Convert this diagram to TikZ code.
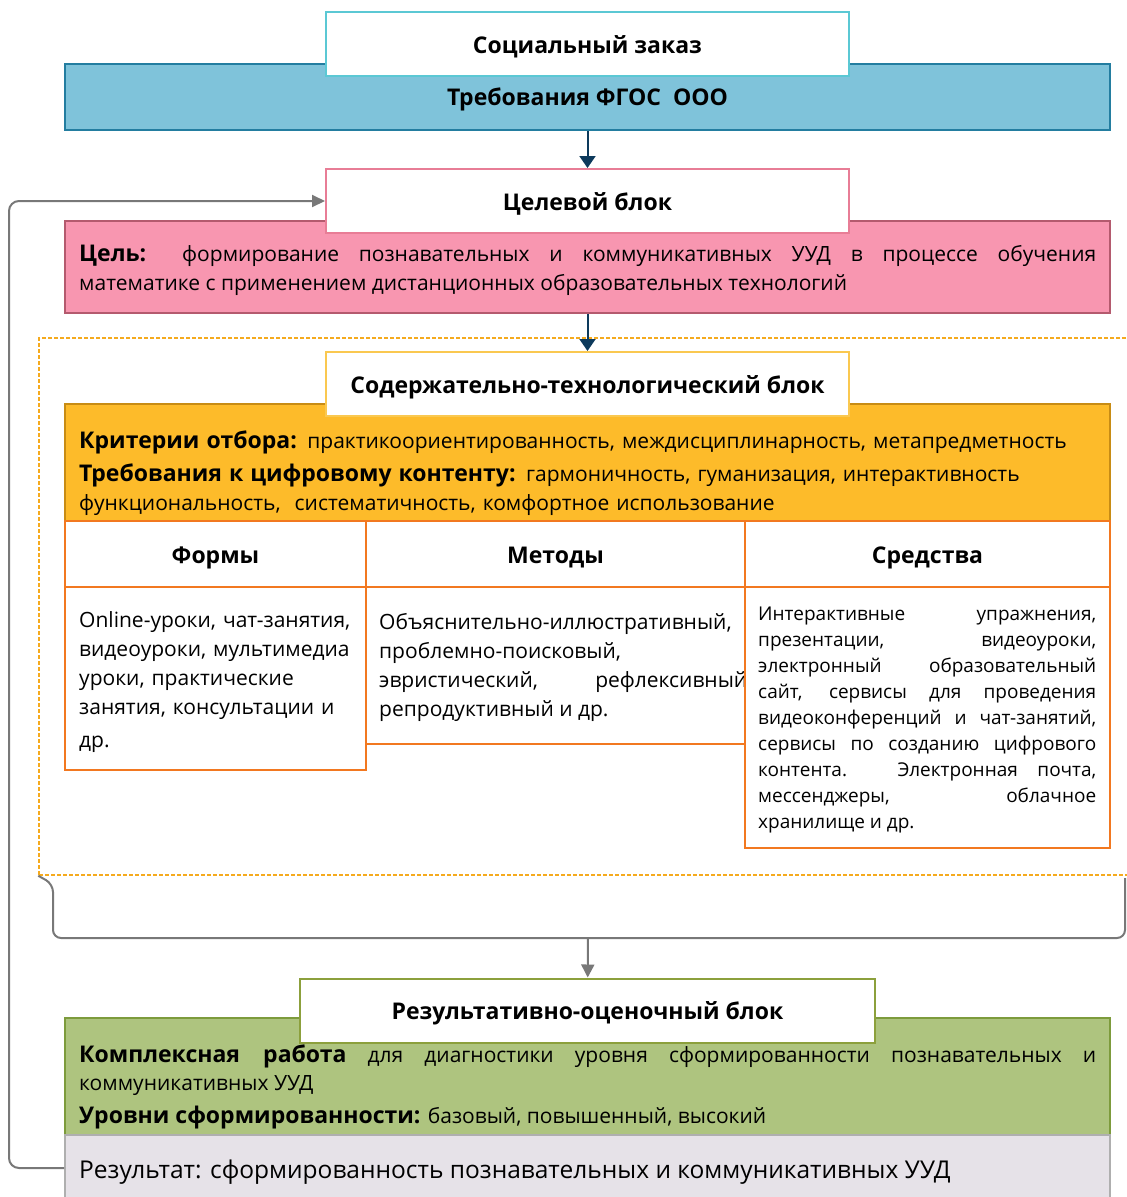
\documentclass[tikz,border=0pt]{standalone}
\usepackage{fontspec}
\setmainfont{Open Sans}
\usetikzlibrary{arrows.meta,positioning}
\newcommand\nohyph{\hyphenpenalty=10000\relax\exhyphenpenalty=10000\relax}

\definecolor{cyanbd}{RGB}{91,200,212}
\definecolor{bluefill}{RGB}{127,195,218}
\definecolor{bluebd}{RGB}{35,125,160}
\definecolor{navy}{RGB}{13,58,92}
\definecolor{pinktitle}{RGB}{232,125,150}
\definecolor{pinkfill}{RGB}{248,150,176}
\definecolor{pinkbd}{RGB}{180,90,110}
\definecolor{goldtitle}{RGB}{250,200,80}
\definecolor{orangefill}{RGB}{253,187,42}
\definecolor{orangebd}{RGB}{200,140,20}
\definecolor{colbd}{RGB}{242,120,32}
\definecolor{dashbd}{RGB}{245,170,30}
\definecolor{greytrack}{RGB}{120,120,120}
\definecolor{greentitle}{RGB}{140,160,60}
\definecolor{greenfill}{RGB}{174,196,127}
\definecolor{greenbd}{RGB}{125,155,60}
\definecolor{resfill}{RGB}{230,226,232}
\definecolor{resbd}{RGB}{175,175,175}

\begin{document}
\begin{tikzpicture}[x=1pt, y=-1pt,
		head/.style = {rectangle, draw=#1, fill=white, line width=2pt, minimum width=523, minimum height=64, inner sep=0, text height=18pt, text depth=0pt, font=\bfseries\fontsize{23}{28}\selectfont},
		band/.style = {rectangle, draw=#1, line width=2pt, minimum width=1045, inner sep=0},
		colhead/.style = {rectangle, draw=colbd, fill=white, line width=2pt, minimum height=66, inner sep=0, text height=18pt, text depth=0pt, font=\bfseries\fontsize{23}{28}\selectfont},
		colbody/.style = {rectangle, draw=colbd, fill=white, line width=2pt, inner sep=0},
		txt/.style = {inner sep=0, anchor=base west, font=\fontsize{21}{29}\selectfont\nohyph},
		lbl/.style = {},
		link/.style = {-{Triangle[width=16pt,length=12pt]}, line width=2pt, draw=navy},
		back/.style = {-{Triangle[width=12pt,length=13pt]}, line width=2pt, draw=greytrack, rounded corners=10pt},
		]
		\useasboundingbox (0,0) rectangle (1127,1197);
		
		%Nodes
		\node[rectangle, draw=dashbd, line width=1.5pt, dash pattern=on 4pt off 2pt, minimum width=1091, minimum height=537] (content) at (584.5,606.5) {};
		
		\node[band=bluebd, fill=bluefill, minimum height=66, text height=16pt, text depth=0pt, font=\bfseries\fontsize{23}{28}\selectfont] (fgos) at (587.5,97) {Требования ФГОС\ \ ООО};
		\node[head=cyanbd] (order) at (587.5,44) {Социальный заказ};
		
		\node[band=pinkbd, fill=pinkfill, minimum height=92] (goal) at (587.5,267) {};
		\node[head=pinktitle] (goalhead) at (587.5,201) {Целевой блок};
		\node[txt, text width=1017, align=justify] (goaltext) at (79,261) {{\bfseries\fontsize{23}{29}\selectfont Цель:} формирование познавательных и коммуникативных УУД в процессе обучения\linebreak математике с применением дистанционных образовательных технологий};
		
		\node[band=orangebd, fill=orangefill, minimum height=117] (crit) at (587.5,462.5) {};
		\node[head=goldtitle] (contenthead) at (587.5,384) {Содержательно-технологический блок};
		\node[txt, text width=1031, align=left] (crittext) at (79,448) {{\bfseries\fontsize{23}{29}\selectfont Критерии отбора:} практикоориентированность, междисциплинарность, метапредметность\\[4pt]
			{\bfseries\fontsize{23}{29}\selectfont Требования к цифровому контенту:} гармоничность, гуманизация, интерактивность\\
			функциональность,\ \ систематичность, комфортное использование};
		
		\node[colhead, minimum width=301] (formshead) at (215.5,554) {Формы};
		\node[colhead, minimum width=379] (methodshead) at (555.5,554) {Методы};
		\node[colhead, minimum width=365] (toolshead) at (927.5,554) {Средства};
		\node[colbody, minimum width=301, minimum height=183] (forms) at (215.5,678.5) {};
		\node[txt, text width=280, align=left] (formstext) at (79,627) {Online-уроки, чат-занятия,\\ видеоуроки, мультимедиа\\ уроки, практические\\ занятия, консультации и\\[4pt] др.};
		\node[colbody, minimum width=379, minimum height=157] (methods) at (555.5,665.5) {};
		\node[txt, text width=368, align=justify] (methodstext) at (379,629) {Объяснительно-иллюстративный,\linebreak проблемно-поисковый,\\ эвристический, рефлексивный\linebreak репродуктивный и др.};
		\node[colbody, minimum width=365, minimum height=261] (tools) at (927.5,717.5) {};
		\node[txt, text width=338, align=justify, font=\fontsize{19}{26}\selectfont\nohyph] (toolstext) at (758,620) {Интерактивные упражнения,\linebreak презентации, видеоуроки,\linebreak электронный образовательный\linebreak сайт, сервисы для проведения\linebreak видеоконференций и чат-занятий,\linebreak сервисы по созданию цифрового\linebreak контента. Электронная почта,\linebreak мессенджеры, облачное\linebreak хранилище и др.};
		
		\node[band=greenbd, fill=greenfill, minimum height=117] (work) at (587.5,1076.5) {};
		\node[head=greentitle, minimum width=575] (resulthead) at (587.5,1010.5) {Результативно-оценочный блок};
		\node[txt, text width=1017, align=justify, font=\fontsize{21}{28}\selectfont\nohyph] (worktext) at (79,1062) {{\bfseries\fontsize{23}{28}\selectfont Комплексная работа} для диагностики уровня сформированности познавательных и\linebreak коммуникативных УУД\\[5pt]
			{\bfseries\fontsize{23}{28}\selectfont Уровни сформированности:} базовый, повышенный, высокий};
		\node[band=resbd, fill=resfill, minimum height=80] (result) at (587.5,1175) {};
		\node[txt, font=\fontsize{24.5}{29}\selectfont] (resulttext) at (79,1178) {Результат: сформированность познавательных и коммуникативных УУД};
		
		\coordinate (bracemid) at (588,938);
		\coordinate (loopx) at (9,600);
		
		%Lines
		\draw[link] (fgos) -- (goalhead);
		\draw[link] (goal) -- (contenthead);
		\draw[greytrack, line width=2pt, rounded corners=8pt] (content.south west) -- (53,884) -- (53,938) -- (1125,938) -- (1125,878);
		\draw[link, draw=greytrack, -{Triangle[width=13pt,length=13pt]}] (bracemid) -- (resulthead);
		\draw[back] ([yshift=7pt]result.west) -| (loopx) |- (goalhead.west);
		
	\end{tikzpicture}
\end{document}
